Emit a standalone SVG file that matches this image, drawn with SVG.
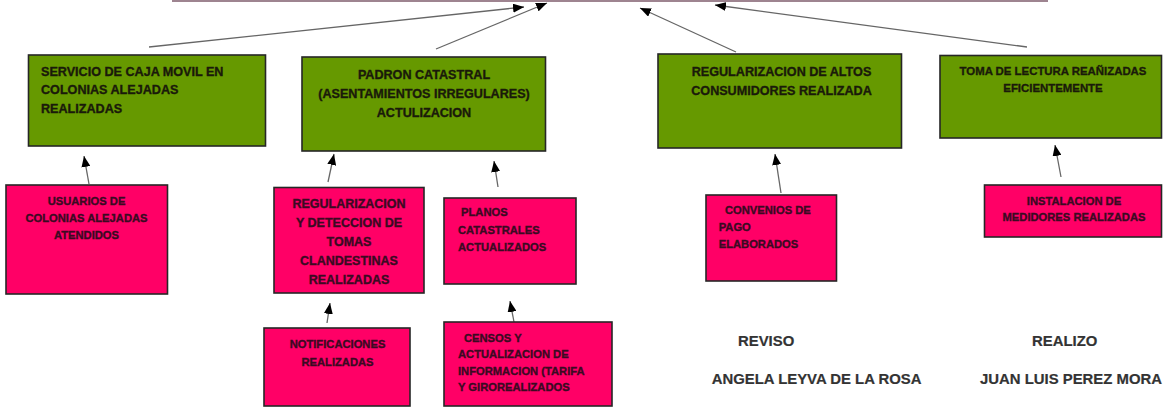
<svg xmlns="http://www.w3.org/2000/svg" width="1163" height="409" viewBox="0 0 1163 409">
<defs>
<marker id="ah" markerUnits="userSpaceOnUse" markerWidth="11" markerHeight="9" refX="11" refY="4.5" orient="auto">
<path d="M0,0 L11,4.5 L0,9 Z" fill="#000"/>
</marker>
<style>
.g{fill:#669900;stroke:#262626;stroke-width:1.6}
.p{fill:#ff0066;stroke:#262626;stroke-width:1.6}
text{font-family:"Liberation Sans",Arial,sans-serif;font-weight:bold;stroke-width:0.35}
.tg{fill:#1a1a0a;stroke:#1a1a0a;font-size:12.6px}
.tg4{fill:#1a1a0a;stroke:#1a1a0a;font-size:11.4px}
.tp{fill:#3a0a22;stroke:#3a0a22;font-size:11.2px}
.tp2{fill:#3a0a22;stroke:#3a0a22;font-size:12.5px}
.c{text-anchor:middle}
.sig{fill:#333;stroke:#333;font-size:14.9px;stroke-width:0.2}
.ln{stroke:#666;stroke-width:1.3;fill:none;marker-end:url(#ah)}
</style>
</defs>
<rect width="1163" height="409" fill="#fff"/>
<line x1="172" y1="1" x2="1048" y2="1" stroke="#9e8490" stroke-width="2"/>

<g id="connectors">
<line class="ln" x1="149" y1="47" x2="524" y2="7"/>
<line class="ln" x1="436" y1="49" x2="547" y2="3"/>
<line class="ln" x1="736" y1="52" x2="640" y2="8"/>
<line class="ln" x1="1027" y1="47" x2="715" y2="5"/>
<line class="ln" x1="89" y1="184" x2="84" y2="156"/>
<line class="ln" x1="328" y1="182" x2="334" y2="154"/>
<line class="ln" x1="498" y1="187" x2="494" y2="161"/>
<line class="ln" x1="781" y1="193" x2="775" y2="154"/>
<line class="ln" x1="1061" y1="177" x2="1055" y2="145"/>
<line class="ln" x1="327" y1="323" x2="330" y2="303"/>
<line class="ln" x1="514" y1="322" x2="510" y2="301"/>
</g>

<g id="n1">
<rect class="g" x="28.5" y="55" width="237" height="91"/>
<text class="tg" x="41" y="75.5">SERVICIO DE CAJA MOVIL EN</text>
<text class="tg" x="41" y="94">COLONIAS ALEJADAS</text>
<text class="tg" x="41" y="112.5">REALIZADAS</text>
</g>
<g id="n2">
<rect class="g" x="302" y="57" width="243.5" height="94"/>
<text class="tg c" x="424" y="78.5">PADRON CATASTRAL</text>
<text class="tg c" x="424" y="97.5">(ASENTAMIENTOS IRREGULARES)</text>
<text class="tg c" x="424" y="116.5">ACTULIZACION</text>
</g>
<g id="n3">
<rect class="g" x="658" y="54" width="243.5" height="94"/>
<text class="tg c" x="781.5" y="75.5">REGULARIZACION DE ALTOS</text>
<text class="tg c" x="781.5" y="94.5">CONSUMIDORES REALIZADA</text>
</g>
<g id="n4">
<rect class="g" x="940" y="55.5" width="221.5" height="82.5"/>
<text class="tg4 c" x="1053" y="75">TOMA DE LECTURA REAÑIZADAS</text>
<text class="tg4 c" x="1053" y="91.5">EFICIENTEMENTE</text>
</g>

<g id="n5">
<rect class="p" x="6" y="185" width="161.5" height="109"/>
<text class="tp c" x="86.5" y="205">USUARIOS DE</text>
<text class="tp c" x="86.5" y="222">COLONIAS ALEJADAS</text>
<text class="tp c" x="86.5" y="239">ATENDIDOS</text>
</g>
<g id="n6">
<rect class="p" x="274" y="187.5" width="150" height="105.5"/>
<text class="tp2 c" x="349" y="207.5">REGULARIZACION</text>
<text class="tp2 c" x="349" y="227">Y DETECCION DE</text>
<text class="tp2 c" x="349" y="246">TOMAS</text>
<text class="tp2 c" x="349" y="264.5">CLANDESTINAS</text>
<text class="tp2 c" x="349" y="283.5">REALIZADAS</text>
</g>
<g id="n7">
<rect class="p" x="444" y="198" width="132" height="86"/>
<text class="tp" x="461" y="216">PLANOS</text>
<text class="tp" x="458" y="234">CATASTRALES</text>
<text class="tp" x="458" y="250.7">ACTUALIZADOS</text>
</g>
<g id="n8">
<rect class="p" x="706" y="195" width="130.5" height="86"/>
<text class="tp" x="725" y="214">CONVENIOS DE</text>
<text class="tp" x="718.7" y="231">PAGO</text>
<text class="tp" x="718.7" y="248">ELABORADOS</text>
</g>
<g id="n9">
<rect class="p" x="984.5" y="185" width="177" height="52"/>
<text class="tp c" x="1074" y="204.7">INSTALACION DE</text>
<text class="tp c" x="1074" y="220.7">MEDIDORES REALIZADAS</text>
</g>
<g id="n10">
<rect class="p" x="264" y="328" width="146" height="78"/>
<text class="tp c" x="337.5" y="348">NOTIFICACIONES</text>
<text class="tp c" x="337.5" y="365.7">REALIZADAS</text>
</g>
<g id="n11">
<rect class="p" x="444" y="322" width="168" height="84"/>
<text class="tp" x="464" y="342">CENSOS Y</text>
<text class="tp" x="458" y="358">ACTUALIZACION DE</text>
<text class="tp" x="458" y="374.5">INFORMACION (TARIFA</text>
<text class="tp" x="458" y="391">Y GIROREALIZADOS</text>
</g>

<g id="signatures">
<text class="sig" x="738" y="346.3">REVISO</text>
<text class="sig" x="711.7" y="384.3">ANGELA LEYVA DE LA ROSA</text>
<text class="sig" x="1032" y="346.3">REALIZO</text>
<text class="sig" x="980" y="384.3">JUAN LUIS PEREZ MORA</text>
</g>
</svg>
